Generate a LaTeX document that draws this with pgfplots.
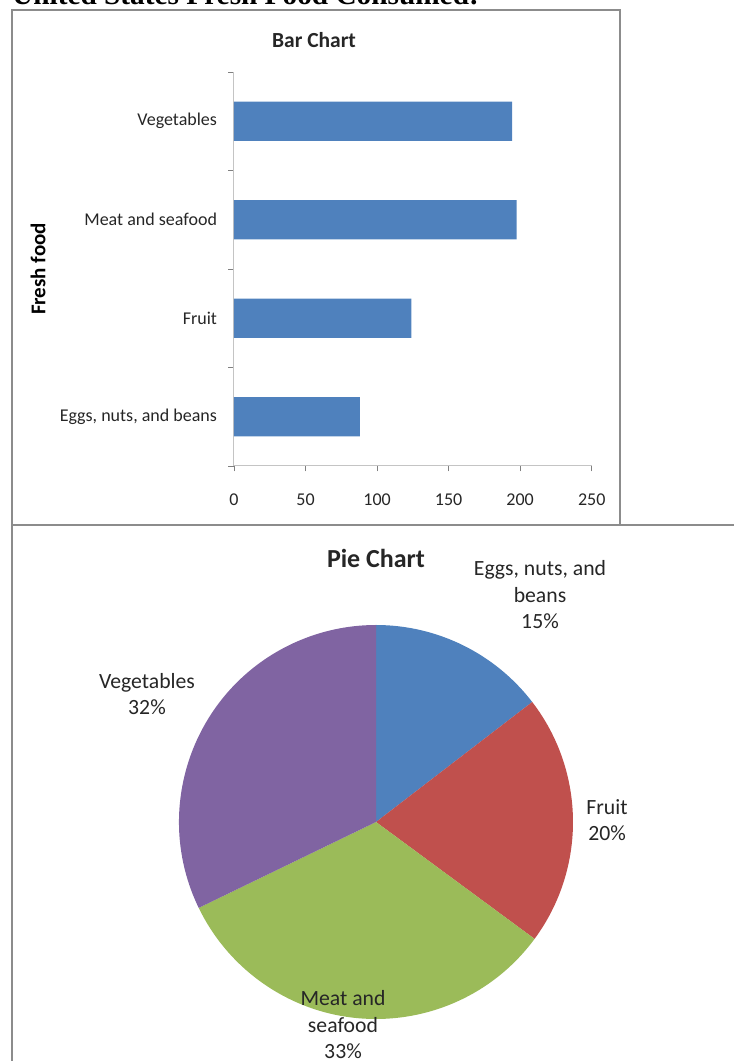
\documentclass[border=0pt]{standalone}
\usepackage{pgfplots}
\usepackage{pgfplotstable}
\pgfplotsset{compat=1.18}
\usepackage{fontspec}
\setmainfont{Carlito}
\newfontfamily\titlefont{Liberation Serif}
\definecolor{barblue}{HTML}{4F81BD}
\definecolor{piered}{HTML}{C0504D}
\definecolor{piegreen}{HTML}{9BBB59}
\definecolor{piepurple}{HTML}{8064A2}
\definecolor{framegray}{HTML}{8C8C8C}
\definecolor{axisgray}{HTML}{C4C4C4}

\pgfplotstableread{
idx value
0 88
1 124
2 197.5
3 194.3
}\fooddata

\begin{document}
\begin{tikzpicture}
\useasboundingbox (0,0) rectangle (734pt,1061pt);
\clip (0,0) rectangle (734pt,1061pt);
% page title (cut at top)
\node[anchor=base west, inner sep=0pt, font=\titlefont\bfseries\fontsize{29.3}{33}\selectfont] at (12pt,1056pt) {United States Fresh Food Consumed:};
% frames
\draw[framegray, line width=1.2pt] (12pt,536pt) rectangle (620pt,1051pt);
\draw[framegray, line width=1.2pt] (12pt,536pt) -- (734pt,536pt);
\draw[framegray, line width=1.2pt] (12pt,536pt) -- (12pt,-5pt);

% bar chart
\begin{axis}[
  at={(234pt,595pt)}, anchor=south west,
  scale only axis, width=357.7pt, height=394pt,
  xbar, bar width=39.4pt,
  xmin=0, xmax=250, ymin=-0.5, ymax=3.5,
  axis x line*=bottom, axis y line*=left,
  axis line style={axisgray, line width=1pt},
  tick style={gray, line width=0.8pt},
  tick align=outside, major tick length=5.5pt,
  xtick={0,50,...,250},
  ytick={-0.5,0.5,1.5,2.5,3.5}, yticklabels={},
  extra y ticks={0,1,2,3},
  extra y tick labels={{Eggs, nuts, and beans},Fruit,{Meat and seafood},Vegetables},
  extra y tick style={tick style={draw=none}},
  /pgf/number format/assume math mode=true,
  ticklabel style={font=\fontsize{18}{21}\selectfont, text=black!85},
  xticklabel style={yshift=-19pt},
  yticklabel style={xshift=-8pt},
]
\addplot[fill=barblue, draw=none] table[x=value, y=idx] {\fooddata};
\end{axis}
\node[font=\bfseries\fontsize{21.5}{24}\selectfont, text=black!85] at (314pt,1021pt) {Bar Chart};
\node[font=\bfseries\fontsize{21}{24}\selectfont, rotate=90] at (38pt,792pt) {Fresh food};

% pie angles from the same data
\pgfplotstablegetelem{0}{value}\of\fooddata \let\vA\pgfplotsretval
\pgfplotstablegetelem{1}{value}\of\fooddata \let\vB\pgfplotsretval
\pgfplotstablegetelem{2}{value}\of\fooddata \let\vC\pgfplotsretval
\pgfplotstablegetelem{3}{value}\of\fooddata \let\vD\pgfplotsretval
\pgfmathsetmacro\total{\vA+\vB+\vC+\vD}
\pgfmathsetmacro\aA{90-360*(\vA/\total)}
\pgfmathsetmacro\aB{\aA-360*(\vB/\total)}
\pgfmathsetmacro\aC{\aB-360*(\vC/\total)}
\pgfmathsetmacro\xA{197*cos(\aA)}\pgfmathsetmacro\yA{197*sin(\aA)}
\pgfmathsetmacro\xB{197*cos(\aB)}\pgfmathsetmacro\yB{197*sin(\aB)}
\pgfmathsetmacro\xC{197*cos(\aC)}\pgfmathsetmacro\yC{197*sin(\aC)}
\begin{axis}[
  at={(376pt,239pt)}, anchor=center,
  hide axis, x=1pt, y=1pt,
  xmin=-200, xmax=200, ymin=-200, ymax=200,
  clip=false,
]
\fill[barblue] (axis cs:0,0) -- (axis cs:0,197) arc[start angle=90, end angle=\aA, radius=197pt] -- cycle;
\fill[piered] (axis cs:0,0) -- (axis cs:\xA,\yA) arc[start angle=\aA, end angle=\aB, radius=197pt] -- cycle;
\fill[piegreen] (axis cs:0,0) -- (axis cs:\xB,\yB) arc[start angle=\aB, end angle=\aC, radius=197pt] -- cycle;
\fill[piepurple] (axis cs:0,0) -- (axis cs:\xC,\yC) arc[start angle=\aC, end angle=-270, radius=197pt] -- cycle;
\end{axis}
\node[font=\bfseries\fontsize{26}{30}\selectfont, text=black!85] at (376pt,503pt) {Pie Chart};
\begin{scope}[every node/.style={align=center, font=\fontsize{21.7}{26.5}\selectfont, text=black!85}]
\node at (540pt,466pt) {Eggs, nuts, and\\beans\\15\%};
\node at (607pt,241pt) {Fruit\\20\%};
\node at (343pt,36pt) {Meat and\\seafood\\33\%};
\node at (147pt,367pt) {Vegetables\\32\%};
\end{scope}
\end{tikzpicture}
\end{document}
